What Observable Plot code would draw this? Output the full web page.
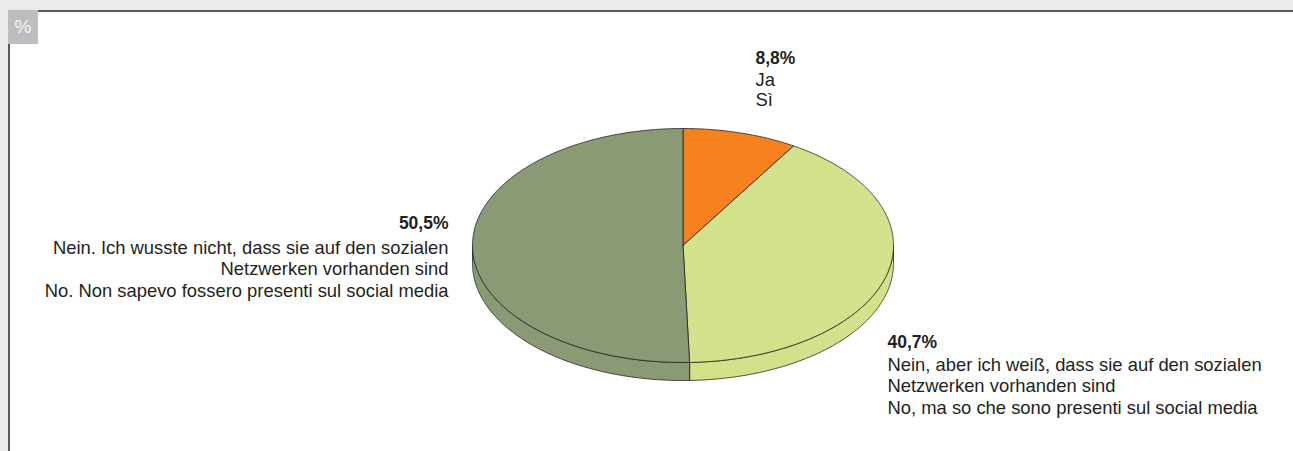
<!DOCTYPE html>
<html>
<head>
<meta charset="utf-8">
<script src="https://cdn.jsdelivr.net/npm/d3@7"></script>
<script src="https://cdn.jsdelivr.net/npm/@observablehq/plot@0.6"></script>
<style>
  html, body { margin: 0; padding: 0; background: #ffffff; }
  #wrap { position: relative; width: 1293px; height: 451px; overflow: hidden; background: #ffffff; font-family: "Liberation Sans", Arial, sans-serif; }
  .band-top { position: absolute; left: 0; top: 0; width: 1293px; height: 10px; background: #ebebeb; }
  .band-left { position: absolute; left: 0; top: 0; width: 8px; height: 451px; background: #ebebeb; }
  .line-top { position: absolute; left: 8px; top: 10px; width: 1285px; height: 1.5px; background: #58595b; }
  .line-left { position: absolute; left: 8px; top: 10px; width: 1.5px; height: 441px; background: #58595b; }
  .pct { position: absolute; left: 8px; top: 10px; width: 30px; height: 34px; background: #bcbdc0; color: #f4f4f4; font-size: 19px; line-height: 34px; text-align: center; }
  #chart { position: absolute; left: 0; top: 0; }
  #chart svg { background: transparent !important; }
</style>
</head>
<body>
<div id="wrap">
  <div class="band-top"></div>
  <div class="band-left"></div>
  <div class="line-top"></div>
  <div class="line-left"></div>
  <div class="pct">%</div>
  <div id="chart"></div>
</div>
<script>
// ---- data ----
const percentLabels = ["8,8%", "40,7%", "50,5%"];
const values = [8.8, 40.7, 50.5];
const labelsDE = ["Ja", "Nein, aber ich weiß, dass sie auf den sozialen\nNetzwerken vorhanden sind", "Nein. Ich wusste nicht, dass sie auf den sozialen\nNetzwerken vorhanden sind"];
const labelsIT = ["Sì", "No, ma so che sono presenti sul social media", "No. Non sapevo fossero presenti sul social media"];
const colors = ["#f5821f", "#d3e28a", "#899a75"];

// ---- layout (positions, not data) ----
const W = 1293, H = 451;
const pie = {cx: 682.5, cy: 245, rx: 210.5, ry: 117, depth: 18};
const labelLayout = [
  {x: 755, anchor: "start", ys: [63, 85, 105]},
  {x: 887, anchor: "start", ys: [347, 370, 391, 413]},
  {x: 448, anchor: "end", ys: [228, 253, 274, 296]}
];
const FS = 18.4;

const total = d3.sum(values);
const pt = (t, dy = 0) => ({x: pie.cx + pie.rx * Math.sin(t), y: pie.cy - pie.ry * Math.cos(t) + dy});
const arc = (a, b, dy = 0) => {
  const n = Math.max(2, Math.ceil((b - a) / (Math.PI / 360)));
  return d3.range(n + 1).map(i => pt(a + (b - a) * i / n, dy));
};

let acc = 0;
const slices = values.map((v, i) => {
  const a = acc / total * 2 * Math.PI;
  acc += v;
  const b = acc / total * 2 * Math.PI;
  return {i, a, b};
});

const marks = [];
// sides (front half: angles between PI/2 and 3PI/2)
for (const s of slices) {
  const a = Math.max(s.a, Math.PI / 2), b = Math.min(s.b, 3 * Math.PI / 2);
  if (b <= a) continue;
  const top = arc(a, b);
  const bottom = arc(a, b, pie.depth).reverse();
  const poly = [...top, ...bottom, top[0]];
  marks.push(Plot.line(poly, {x: "x", y: "y", fill: colors[s.i], stroke: "#231f20", strokeWidth: 0.8, curve: "linear"}));
}
// top faces
for (const s of slices) {
  const c = {x: pie.cx, y: pie.cy};
  const poly = [c, ...arc(s.a, s.b), c];
  marks.push(Plot.line(poly, {x: "x", y: "y", fill: colors[s.i], stroke: "#231f20", strokeWidth: 0.8, strokeLinejoin: "round", curve: "linear"}));
}
// labels
const textRows = [];
slices.forEach(s => {
  const L = labelLayout[s.i];
  const lines = [percentLabels[s.i], ...labelsDE[s.i].split("\n"), labelsIT[s.i]];
  lines.forEach((t, k) => textRows.push({x: L.x, y: L.ys[k], text: t, bold: k === 0, anchor: L.anchor}));
});
for (const anchor of ["start", "end"]) {
  marks.push(Plot.text(textRows.filter(d => d.anchor === anchor && d.bold), {x: "x", y: "y", text: "text", textAnchor: anchor, lineAnchor: "bottom", fontWeight: "bold", fontSize: 17.5, fill: "#231f20"}));
  marks.push(Plot.text(textRows.filter(d => d.anchor === anchor && !d.bold), {x: "x", y: "y", text: "text", textAnchor: anchor, lineAnchor: "bottom", fontSize: FS, fill: "#231f20"}));
}

const chart = Plot.plot({
  width: W, height: H,
  margin: 0,
  x: {domain: [0, W], range: [0, W], axis: null},
  y: {domain: [0, H], range: [0, H], axis: null},
  style: {fontFamily: "'Liberation Sans', Arial, sans-serif", background: "transparent"},
  marks
});
document.getElementById("chart").appendChild(chart);
</script>
</body>
</html>
